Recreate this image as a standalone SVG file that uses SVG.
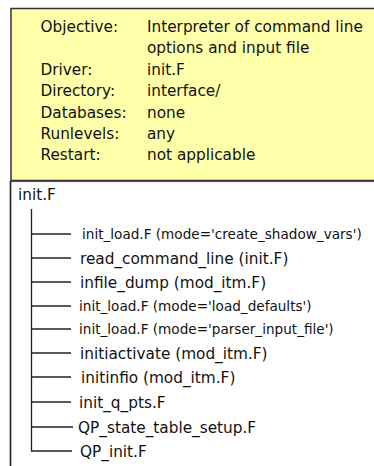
<svg xmlns="http://www.w3.org/2000/svg" width="374" height="466" viewBox="0 0 374 466">
  <style>
    text { font-family: "DejaVu Sans", "Liberation Sans", sans-serif; fill: #111; }
    .big { font-size: 15.3px; }
    .small { font-size: 13.6px; }
    .tree { stroke: #222; stroke-width: 1.3; fill: none; }
  </style>
  <rect width="374" height="466" fill="#fff"/>

  <!-- summary card -->
  <g id="summary">
    <rect x="11" y="8.5" width="380" height="172" fill="#ffffaa" stroke="#333" stroke-width="1.5"/>
    <text class="big" x="40.5" y="32">Objective:</text>
    <text class="big" x="147" y="32">Interpreter of command line</text>
    <text class="big" x="147" y="53.4">options and input file</text>
    <text class="big" x="40.5" y="74.8">Driver:</text>
    <text class="big" x="147" y="74.8">init.F</text>
    <text class="big" x="40.5" y="96.2">Directory:</text>
    <text class="big" x="147" y="96.2">interface/</text>
    <text class="big" x="40.5" y="117.6">Databases:</text>
    <text class="big" x="147" y="117.6">none</text>
    <text class="big" x="40.5" y="139">Runlevels:</text>
    <text class="big" x="147" y="139">any</text>
    <text class="big" x="40.5" y="160.4">Restart:</text>
    <text class="big" x="147" y="160.4">not applicable</text>
  </g>

  <!-- call tree panel -->
  <rect x="10.5" y="181.5" width="380" height="300" fill="#fff" stroke="#555" stroke-width="1.2"/>
  <line x1="10.5" y1="181" x2="10.5" y2="466" stroke="#222" stroke-width="1.5"/>

  <g id="connectors" class="tree">
    <path d="M31.5 209 V451 H72"/>
    <path d="M31.5 234 H71"/>
    <path d="M31.5 258 H71"/>
    <path d="M31.5 282 H71"/>
    <path d="M31.5 306 H71"/>
    <path d="M31.5 329 H71"/>
    <path d="M31.5 353 H71"/>
    <path d="M31.5 377 H71"/>
    <path d="M31.5 402 H71"/>
    <path d="M31.5 427 H73"/>
  </g>

  <g id="init_F"><text class="big" x="18" y="200">init.F</text></g>
  <g id="init_load_shadow"><text class="small" x="82" y="239">init_load.F (mode='create_shadow_vars')</text></g>
  <g id="read_command_line"><text class="big" x="80" y="263.5">read_command_line (init.F)</text></g>
  <g id="infile_dump"><text class="big" x="80" y="287.5">infile_dump (mod_itm.F)</text></g>
  <g id="init_load_defaults"><text class="small" x="79" y="311">init_load.F (mode='load_defaults')</text></g>
  <g id="init_load_parser"><text class="small" x="79" y="334">init_load.F (mode='parser_input_file')</text></g>
  <g id="initiactivate"><text class="big" x="80" y="358.5">initiactivate (mod_itm.F)</text></g>
  <g id="initinfio"><text class="big" x="81" y="382.5">initinfio (mod_itm.F)</text></g>
  <g id="init_q_pts"><text class="big" x="79" y="407.5">init_q_pts.F</text></g>
  <g id="QP_state_table_setup"><text class="big" x="78" y="432.5">QP_state_table_setup.F</text></g>
  <g id="QP_init"><text class="big" x="80" y="456.5">QP_init.F</text></g>
</svg>
